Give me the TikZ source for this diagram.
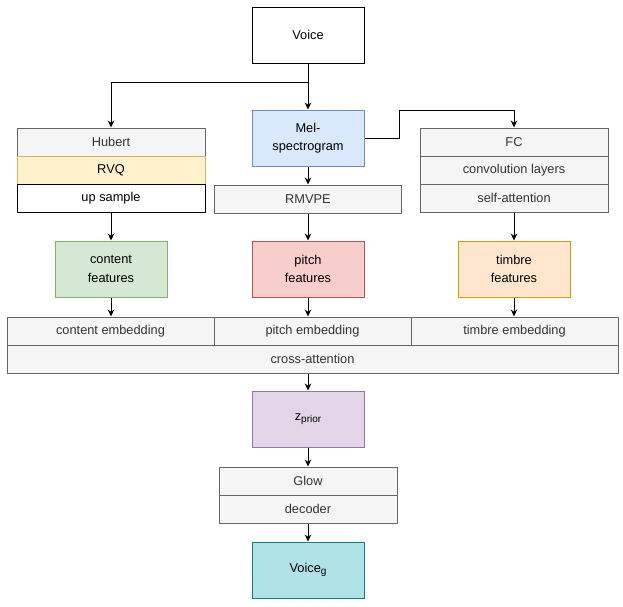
\documentclass[tikz,border=0pt]{standalone}
\usepackage{fontspec}
\setmainfont{Liberation Sans}
\usetikzlibrary{arrows.meta}

\definecolor{greyfill}{HTML}{F5F5F5}
\definecolor{greyline}{HTML}{666666}
\definecolor{greytext}{HTML}{333333}
\definecolor{rvqfill}{HTML}{FFF2CC}
\definecolor{rvqline}{HTML}{D6B656}
\definecolor{melfill}{HTML}{DAE8FC}
\definecolor{melline}{HTML}{6C8EBF}
\definecolor{contfill}{HTML}{D5E8D4}
\definecolor{contline}{HTML}{82B366}
\definecolor{pitchfill}{HTML}{F8CECC}
\definecolor{pitchline}{HTML}{B85450}
\definecolor{timbfill}{HTML}{FFE6CC}
\definecolor{timbline}{HTML}{D79B00}
\definecolor{priorfill}{HTML}{E1D5E7}
\definecolor{priorline}{HTML}{9673A6}
\definecolor{outfill}{HTML}{B0E3E6}
\definecolor{outline}{HTML}{0E8088}

\newcommand{\lowsub}[1]{\raisebox{-0.35ex}{\fontsize{10}{12}\selectfont #1}}

\begin{document}
\begin{tikzpicture}[x = 1pt, y = -1pt,
    font = \fontsize{12.8}{18.5}\selectfont,
    box/.style = {draw, line width = 1pt, inner sep = 0pt, align = center,
                  minimum width = 112pt, minimum height = 56pt},
    layer/.style = {draw = greyline, fill = greyfill, text = greytext, line width = 1pt,
                    inner sep = 0pt, minimum height = 28pt},
    arr/.style = {line width = 1pt, -{Stealth[length = 7pt, width = 6.5pt]}}]
    \useasboundingbox (0,0) rectangle (623,606);

    % input
    \node[box] (voice) at (308,35) {Voice};
    \node[box, draw = melline, fill = melfill] (mel) at (308,138) {Mel-\\spectrogram};

    % content branch
    \node[layer, minimum width = 188pt] (hubert) at (111,142) {Hubert};
    \node[layer, minimum width = 188pt, draw = rvqline, fill = rvqfill, text = black] (rvq) at (111,170) {RVQ};
    \node[layer, minimum width = 188pt, draw = black, fill = white, text = black] (upsample) at (111,198) {up sample};
    \node[box, draw = contline, fill = contfill] (content) at (111,269) {content\\features};

    % pitch branch
    \node[layer, minimum width = 187pt] (rmvpe) at (308,199) {RMVPE};
    \node[box, draw = pitchline, fill = pitchfill] (pitch) at (308,269) {pitch\\features};

    % timbre branch
    \node[layer, minimum width = 188pt] (fc) at (514,142) {FC};
    \node[layer, minimum width = 188pt] (conv) at (514,170) {convolution layers};
    \node[layer, minimum width = 188pt] (selfatt) at (514,198) {self-attention};
    \node[box, draw = timbline, fill = timbfill] (timbre) at (514,269) {timbre\\features};

    % fusion
    \node[layer, minimum width = 207pt] (contentemb) at (110.5,331) {content embedding};
    \node[layer, minimum width = 197pt] (pitchemb) at (312.5,331) {pitch embedding};
    \node[layer, minimum width = 207pt] (timbreemb) at (514.5,331) {timbre embedding};
    \node[layer, minimum width = 611pt] (cross) at (312.5,359) {cross-attention};

    % output
    \node[box, draw = priorline, fill = priorfill] (zprior) at (308,419) {z\lowsub{prior}};
    \node[layer, minimum width = 178pt] (glow) at (308,481) {Glow};
    \node[layer, minimum width = 178pt] (decoder) at (308,509) {decoder};
    \node[box, draw = outline, fill = outfill] (voiceg) at (308,570) {Voice\lowsub{g}};

    \draw[arr] (voice.south) -- (mel.north);
    \draw[arr] (voice.south) -- ++(0,19) -| (hubert.north);
    \draw[arr] (mel.east) -| ++(35,-28) -| (fc.north);
    \draw[arr] (mel.south) -- (rmvpe.north);
    \draw[arr] (upsample.south) -- (content.north);
    \draw[arr] (rmvpe.south) -- (pitch.north);
    \draw[arr] (selfatt.south) -- (timbre.north);
    \draw[arr] (content.south) -- (content.south |- contentemb.north);
    \draw[arr] (pitch.south) -- (pitch.south |- pitchemb.north);
    \draw[arr] (timbre.south) -- (timbre.south |- timbreemb.north);
    \draw[arr] (zprior.north |- cross.south) -- (zprior.north);
    \draw[arr] (zprior.south) -- (glow.north);
    \draw[arr] (decoder.south) -- (voiceg.north);
\end{tikzpicture}
\end{document}
